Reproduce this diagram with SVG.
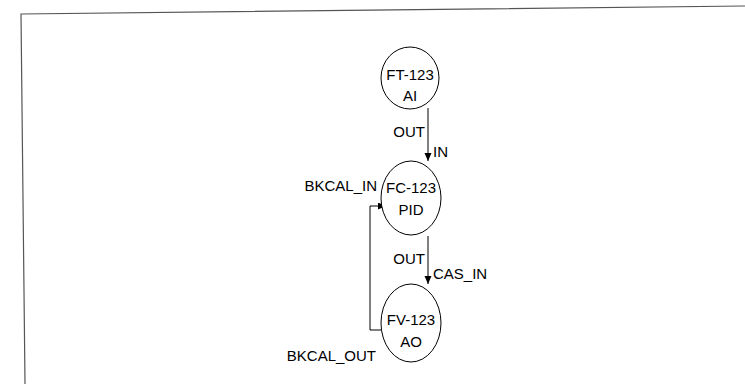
<svg xmlns="http://www.w3.org/2000/svg" width="745" height="384" viewBox="0 0 745 384">
<defs>
<marker id="ah" markerWidth="8" markerHeight="8" refX="8" refY="3.5" orient="auto" markerUnits="userSpaceOnUse">
<path d="M0,0 L8,3.5 L0,7 Z" fill="#000"/>
</marker>
<style>
.n{fill:#fff;stroke:#000;stroke-width:1}
.t{font-family:"Liberation Sans",Arial,sans-serif;font-size:15px;fill:#000}
.c{text-anchor:middle}
.e{text-anchor:end}
.w{fill:none;stroke:#000;stroke-width:1}
.b{fill:none;stroke:#555;stroke-width:1.2}
</style>
</defs>
<rect width="745" height="384" fill="#fff"/>
<polyline class="b" points="745,6 21,14 25,384"/>
<g id="connectors">
<line class="w" x1="428" y1="108" x2="428" y2="161" marker-end="url(#ah)"/>
<line class="w" x1="428" y1="236" x2="428" y2="284" marker-end="url(#ah)"/>
<polyline class="w" points="384,330 370,330 370,206 386,206" marker-end="url(#ah)"/>
<text class="t e" x="425" y="137">OUT</text>
<text class="t" x="433" y="157">IN</text>
<text class="t e" x="377" y="191">BKCAL_IN</text>
<text class="t e" x="425" y="264">OUT</text>
<text class="t" x="433" y="279">CAS_IN</text>
<text class="t e" x="376" y="361">BKCAL_OUT</text>
</g>
<g id="FT-123">
<ellipse class="n" cx="410" cy="78" rx="29" ry="31"/>
<text class="t c" x="410" y="80">FT-123</text>
<text class="t c" x="410" y="101">AI</text>
</g>
<g id="FC-123">
<ellipse class="n" cx="411" cy="198" rx="30" ry="37"/>
<text class="t c" x="411" y="193">FC-123</text>
<text class="t c" x="411" y="215">PID</text>
</g>
<g id="FV-123">
<ellipse class="n" cx="411" cy="323" rx="30" ry="39"/>
<text class="t c" x="411" y="325">FV-123</text>
<text class="t c" x="411" y="347">AO</text>
</g>
</svg>
